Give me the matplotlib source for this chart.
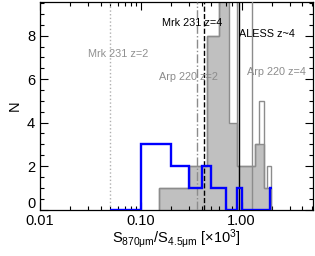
import matplotlib
matplotlib.use('Agg')
import matplotlib.pyplot as plt
import matplotlib.transforms as mtransforms
import numpy as np
from matplotlib.ticker import FixedLocator, MultipleLocator, LogLocator, FuncFormatter

plt.rcParams['font.family'] = ['Liberation Sans', 'DejaVu Sans']
plt.rcParams['mathtext.fontset'] = 'custom'
plt.rcParams['mathtext.rm'] = 'Liberation Sans'
plt.rcParams['mathtext.it'] = 'Liberation Sans'

# gray histograms (filled subset and open full sample), linear bins of 0.15
gray_edges = [0.15, 0.30, 0.45, 0.60, 0.75, 0.90, 1.05, 1.20, 1.35, 1.50, 1.65, 1.80, 1.95]
gray_filled = [1, 2, 8, 10, 4, 2, 2, 2, 3, 3, 1, 1]
gray_open = [1, 2, 8, 10, 10, 2, 2, 2, 3, 5, 1, 2]

# blue histogram, bins of 0.1
blue_edges = [0.05, 0.1, 0.2, 0.3, 0.4, 0.5, 0.6, 0.7, 0.8, 0.9, 1.0,
              1.1, 1.2, 1.3, 1.4, 1.5, 1.6, 1.7, 1.8, 1.9, 2.0]
blue_counts = [0, 3, 2, 1, 2, 1, 1, 0, 0, 1,
               0, 0, 0, 0, 0, 0, 0, 0, 0, 1]

# template ratios: label, x, line colour, line style, label x, label y
templates = [
    ('Mrk 231 z=2', 0.05, '#b0b0b0', ':', 0.030, 7.15),
    ('Arp 220 z=2', 0.36, '#8c8c8c', '-.', 0.150, 6.1),
    ('Mrk 231 z=4', 0.42, 'black', '--', 0.162, 8.6),
    ('ALESS z~4', 0.95, 'black', '-', 0.95, 8.1),
    ('Arp 220 z=4', 1.28, '#8c8c8c', '-', 1.125, 6.35),
]

fig = plt.figure(figsize=(3.15, 2.56), dpi=100)
fig.patch.set_facecolor('white')
ax = fig.add_axes([40 / 315, 1 - 209.5 / 256, 273 / 315, 207.5 / 256])

ax.stairs(gray_filled, gray_edges, fill=True, facecolor='#c0c0c0',
          edgecolor='#8c8c8c', lw=1.0, zorder=1)
ax.stairs(gray_open, gray_edges, color='#8c8c8c', lw=1.0, zorder=2)

for name, xv, col, ls, tx, ty in templates:
    ax.axvline(xv, color=col, ls=ls, lw=1.0, zorder=3)
    ax.text(tx, ty, name, color=col if col != '#b0b0b0' else '#909090',
            fontsize=7.8, va='center', ha='left', zorder=4)

ax.stairs(blue_counts, blue_edges, color='blue', lw=1.7, baseline=None, zorder=5)

ax.set_xscale('log')
ax.set_xlim(0.01, 5.1)
ax.set_ylim(0, 9.55)

ax.xaxis.set_major_locator(FixedLocator([0.01, 0.1, 1.0]))
ax.xaxis.set_major_formatter(FuncFormatter(lambda v, p: '%.2f' % v))
ax.xaxis.set_minor_locator(LogLocator(base=10, subs=np.arange(2, 10)))
ax.yaxis.set_major_locator(MultipleLocator(2))
ax.yaxis.set_minor_locator(MultipleLocator(0.5))

ax.tick_params(which='both', direction='in', top=True, right=True,
               labelsize=10.5, width=0.8)
ax.tick_params(which='major', length=5.5)
ax.tick_params(which='minor', length=3)
for s in ax.spines.values():
    s.set_linewidth(0.9)

ax.set_ylabel('N', fontsize=10.5, labelpad=4)
ax.set_xlabel(r'S$_{870\mu\mathrm{m}}$/S$_{4.5\mu\mathrm{m}}$ [$\times$10$^3$]',
              fontsize=10.5, labelpad=-1)

# lift the "0" label clear of the x tick labels, as in the original
fig.canvas.draw()
shift = mtransforms.ScaledTranslation(0, 5 / 72, fig.dpi_scale_trans)
for lab in ax.get_yticklabels():
    if lab.get_text() == '0':
        lab.set_transform(lab.get_transform() + shift)

fig.savefig('out.png', dpi=100)
